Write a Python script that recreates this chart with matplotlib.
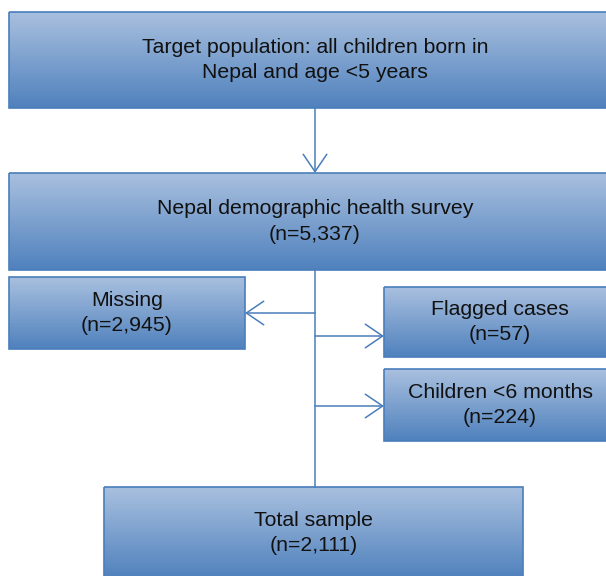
import numpy as np
import matplotlib.pyplot as plt
from matplotlib.patches import Rectangle
from matplotlib.colors import LinearSegmentedColormap

plt.rcParams['font.family'] = ['Liberation Sans', 'DejaVu Sans']

# box texts and their layout (pixel units, y downward)
labels = [
    'Target population: all children born in\nNepal and age <5 years',
    'Nepal demographic health survey\n(n=5,337)',
    'Missing\n(n=2,945)',
    'Flagged cases\n(n=57)',
    'Children <6 months\n(n=224)',
    'Total sample\n(n=2,111)',
]
box_x = [9, 9, 9, 384, 384, 104]
box_y = [12, 173, 277, 287, 369, 487]
box_w = [612, 612, 236, 232, 232, 419]
box_h = [96, 97, 72, 70, 72, 92]

spine_x = 315
branch_y = [313, 336, 406]
branch_to = [245, 384, 384]

edge = '#4a7ebb'
grad = LinearSegmentedColormap.from_list('g', ['#a9c0df', '#4f81bd'])

fig = plt.figure(figsize=(6.06, 5.76), dpi=100)
ax = fig.add_axes([0, 0, 1, 1])
ax.axis('off')

ramp = np.linspace(0, 1, 256).reshape(-1, 1)
for txt, x, y, w, h in zip(labels, box_x, box_y, box_w, box_h):
    ax.imshow(ramp, cmap=grad, aspect='auto', extent=(x, x + w, y + h, y),
              zorder=1, interpolation='bicubic')
    ax.add_patch(Rectangle((x, y), w, h, fill=False, edgecolor=edge,
                           linewidth=1.2, zorder=2))
    ax.text(x + w / 2, y + h / 2, txt, ha='center', va='center',
            fontsize=15.3, color='#111111', linespacing=1.42, zorder=3)

ax.set_xlim(0, 606)
ax.set_ylim(576, 0)

arrow = dict(arrowstyle='->,head_length=1.25,head_width=0.85', color=edge,
             lw=1.1, shrinkA=0, shrinkB=0)

# top box to survey box
ax.annotate('', xy=(spine_x, box_y[1]), xytext=(spine_x, box_y[0] + box_h[0]),
            arrowprops=arrow, zorder=4)
# spine down to total sample
ax.plot([spine_x, spine_x], [box_y[1] + box_h[1], box_y[5]], color=edge,
        lw=1.1, zorder=4)
# exclusions
for by, bx in zip(branch_y, branch_to):
    ax.annotate('', xy=(bx, by), xytext=(spine_x, by), arrowprops=arrow,
                zorder=4)

fig.savefig('out.png', dpi=100)
